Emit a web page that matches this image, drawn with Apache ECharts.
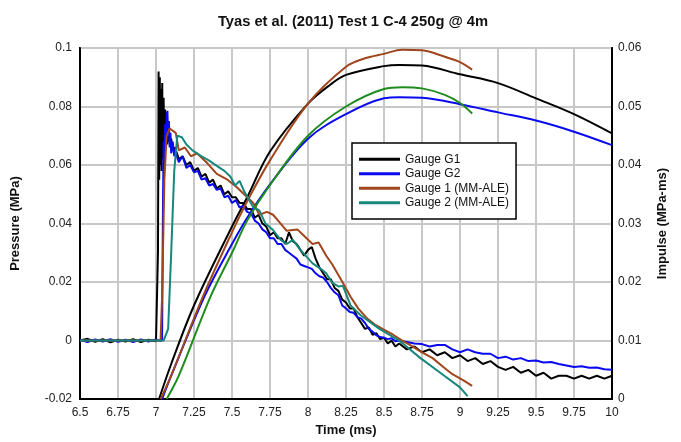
<!DOCTYPE html>
<html>
<head>
<meta charset="utf-8">
<script src="https://cdn.jsdelivr.net/npm/echarts@6/dist/echarts.min.js"></script>
<style>
 html, body { margin: 0; padding: 0; background: #fff; }
 #chart { width: 681px; height: 442px; }
</style>
</head>
<body>
<div id="chart"></div>
<script>
// time (ms), pressure (MPa)
const g1Pressure = [
 [6.5,0],[6.55,0.0006],[6.6,-0.0004],[6.65,0.0005],[6.7,-0.0006],[6.75,0.0003],[6.8,-0.0003],[6.85,0.0005],[6.9,-0.0005],[6.95,0.0003],[7.0,-0.0002],[7.01,0.0004],
 [7.013,0.03],[7.017,0.092],[7.021,0.055],[7.025,0.09],[7.029,0.06],[7.033,0.086],[7.037,0.058],[7.041,0.088],[7.045,0.062],[7.05,0.083],[7.055,0.063],[7.06,0.079],[7.065,0.066],[7.07,0.074],[7.075,0.067],[7.08,0.072],[7.09,0.068],[7.1,0.069],[7.11,0.065],
 [7.125,0.066],[7.15,0.062],[7.175,0.063],[7.2,0.06],[7.225,0.061],[7.25,0.058],[7.275,0.059],[7.3,0.056],[7.325,0.057],[7.35,0.054],[7.375,0.055],[7.4,0.052],[7.425,0.053],[7.45,0.05],[7.475,0.051],[7.5,0.049],[7.525,0.049],[7.55,0.047],[7.575,0.047],[7.6,0.045],[7.625,0.045],[7.65,0.042],[7.675,0.043],[7.7,0.04],[7.725,0.039],[7.75,0.036],[7.775,0.037],[7.8,0.035],[7.825,0.035],[7.85,0.033],[7.875,0.037],[7.9,0.034],[7.925,0.033],[7.95,0.031],[7.975,0.029],[8.0,0.031],[8.025,0.032],[8.05,0.028],[8.075,0.025],[8.1,0.023],[8.125,0.021],[8.15,0.021],[8.175,0.018],[8.2,0.017],[8.225,0.014],[8.25,0.013],[8.275,0.011],[8.3,0.011],[8.325,0.008],[8.35,0.006],[8.375,0.004],[8.4,0.0045],[8.425,0.002],[8.45,0.0025],[8.475,0.0005],[8.5,0.001],[8.525,-0.001],[8.55,0.0],[8.575,-0.002],[8.6,-0.001],
 [8.65,-0.003],[8.7,-0.002],[8.75,-0.004],[8.8,-0.003],[8.85,-0.005],[8.9,-0.004],[8.95,-0.006],[9.0,-0.005],[9.05,-0.007],[9.1,-0.006],[9.15,-0.008],[9.2,-0.007],[9.25,-0.009],[9.3,-0.01],[9.35,-0.009],[9.4,-0.011],[9.45,-0.01],[9.5,-0.012],[9.55,-0.011],[9.6,-0.013],[9.65,-0.012],[9.7,-0.012],[9.75,-0.013],[9.8,-0.012],[9.85,-0.013],[9.9,-0.012],[9.95,-0.013],[10,-0.012]
];
const g2Pressure = [
 [6.5,0.0003],[6.55,-0.0005],[6.6,0.0004],[6.65,-0.0003],[6.7,0.0005],[6.75,-0.0004],[6.8,0.0003],[6.85,-0.0005],[6.9,0.0004],[6.95,-0.0003],[7.0,0.0004],[7.03,-0.0002],[7.04,0.0005],
 [7.045,0.04],[7.05,0.068],[7.055,0.06],[7.06,0.074],[7.065,0.066],[7.07,0.077],[7.075,0.0785],[7.08,0.07],[7.085,0.075],[7.09,0.066],[7.095,0.071],[7.1,0.064],[7.11,0.068],[7.12,0.063],
 [7.125,0.065],[7.15,0.061],[7.175,0.063],[7.2,0.059],[7.225,0.06],[7.25,0.0575],[7.275,0.058],[7.3,0.055],[7.325,0.0555],[7.35,0.053],[7.375,0.0535],[7.4,0.0515],[7.425,0.052],[7.45,0.049],[7.475,0.0495],[7.5,0.047],[7.525,0.048],[7.55,0.0455],[7.575,0.046],[7.6,0.044],[7.625,0.0435],[7.65,0.041],[7.675,0.04],[7.7,0.038],[7.725,0.037],[7.75,0.035],[7.775,0.035],[7.8,0.033],[7.825,0.033],[7.85,0.031],[7.875,0.03],[7.9,0.029],[7.925,0.028],[7.95,0.026],[7.975,0.0255],[8.0,0.025],[8.025,0.0245],[8.05,0.023],[8.075,0.022],[8.1,0.0215],[8.125,0.02],[8.15,0.018],[8.175,0.0165],[8.2,0.0155],[8.225,0.012],[8.25,0.011],[8.275,0.0098],[8.3,0.0095],[8.325,0.008],[8.35,0.0075],[8.375,0.006],[8.4,0.004],[8.425,0.003],[8.45,0.0018],[8.475,0.0012],[8.5,0.001],[8.525,0.0005],[8.55,0.0008],[8.575,-0.0002],[8.6,0.0],
 [8.65,-0.0005],[8.7,-0.001],[8.75,-0.0012],[8.8,-0.002],[8.85,-0.0015],[8.9,-0.0015],[8.95,-0.003],[9.0,-0.004],[9.05,-0.003],[9.1,-0.004],[9.15,-0.0045],[9.2,-0.0045],[9.25,-0.006],[9.3,-0.0055],[9.35,-0.0065],[9.4,-0.006],[9.45,-0.007],[9.5,-0.0068],[9.55,-0.0075],[9.6,-0.0073],[9.65,-0.008],[9.7,-0.0085],[9.75,-0.009],[9.8,-0.0088],[9.85,-0.0093],[9.9,-0.0092],[9.95,-0.0098],[10,-0.01]
];
const mm1Pressure = [
 [6.5,0],[7.03,0],[7.04,0.015],[7.055,0.055],[7.07,0.07],[7.09,0.0725],[7.13,0.071],[7.15,0.065],[7.19,0.066],[7.23,0.063],[7.27,0.064],[7.34,0.0605],[7.4,0.057],[7.47,0.055],[7.53,0.0525],[7.6,0.049],[7.64,0.047],[7.68,0.043],[7.73,0.044],[7.77,0.043],[7.82,0.04],[7.86,0.0375],[7.93,0.038],[7.97,0.036],[8.03,0.033],[8.07,0.0335],[8.12,0.029],[8.16,0.026],[8.23,0.0197],[8.28,0.015],[8.33,0.011],[8.39,0.0075],[8.44,0.0055],[8.49,0.004],[8.56,0.002],[8.62,0.0],[8.67,-0.0015],[8.75,-0.004],[8.82,-0.006],[8.89,-0.009],[8.95,-0.0115],[9.02,-0.0135],[9.08,-0.0155]
];
const mm2Pressure = [
 [6.5,0],[7.05,0],[7.08,0.004],[7.1,0.03],[7.12,0.058],[7.14,0.07],[7.17,0.0695],[7.2,0.067],[7.24,0.065],[7.3,0.063],[7.35,0.0615],[7.4,0.0597],[7.45,0.058],[7.49,0.056],[7.52,0.053],[7.55,0.0546],[7.58,0.051],[7.64,0.0456],[7.68,0.0445],[7.72,0.04],[7.77,0.0378],[7.82,0.0344],[7.86,0.033],[7.9,0.0344],[7.95,0.031],[8.03,0.0264],[8.08,0.0247],[8.12,0.023],[8.16,0.0197],[8.2,0.0185],[8.23,0.0187],[8.28,0.012],[8.35,0.0085],[8.47,0.004],[8.6,0.0],[8.74,-0.006],[8.87,-0.011],[9.0,-0.016],[9.05,-0.019]
];
// time (ms), impulse (MPa-ms)
const g1Impulse = [[7.02,0],[7.1,0.006],[7.25,0.016],[7.5,0.0295],[7.6,0.0345],[7.75,0.0423],[8.0,0.0505],[8.15,0.0538],[8.25,0.0554],[8.5,0.0569],[8.6,0.0571],[8.75,0.057],[9.0,0.0555],[9.25,0.054],[9.5,0.0514],[9.75,0.0487],[10,0.0454]];
const g2Impulse = [[7.04,0],[7.1,0.004],[7.32,0.0176],[7.5,0.0265],[7.6,0.031],[7.75,0.0367],[8.0,0.0445],[8.25,0.0487],[8.5,0.0514],[8.6,0.0516],[8.75,0.0515],[9.0,0.0504],[9.25,0.049],[9.5,0.0476],[9.75,0.0457],[10,0.0434]];
const mm1Impulse = [[7.03,0],[7.1,0.004],[7.31,0.0176],[7.5,0.0285],[7.6,0.0338],[7.75,0.0408],[8.0,0.0505],[8.25,0.0568],[8.37,0.0582],[8.5,0.059],[8.62,0.0597],[8.75,0.0596],[8.9,0.0585],[9.0,0.0576],[9.08,0.0563]];
const mm2Impulse = [[7.07,0],[7.15,0.004],[7.36,0.0176],[7.5,0.025],[7.6,0.0305],[7.75,0.0366],[8.0,0.045],[8.25,0.05],[8.5,0.053],[8.62,0.0533],[8.75,0.0531],[8.9,0.052],[9.0,0.0506],[9.08,0.0488]];

const legendNames = ['Gauge G1', 'Gauge G2', 'Gauge 1 (MM-ALE)', 'Gauge 2 (MM-ALE)'];

const chart = echarts.init(document.getElementById('chart'));
const font = 'Liberation Sans, Arial, sans-serif';

function line(name, data, color, yAxisIndex, z, smooth) {
 return {
 name, type: 'line', data, yAxisIndex, z,
 symbol: 'none', smooth: smooth || false,
 lineStyle: { color, width: 2 },
 itemStyle: { color },
 animation: false
 };
}

chart.setOption({
 backgroundColor: '#fff',
 title: {
 text: 'Tyas et al. (2011) Test 1 C-4 250g @ 4m',
 left: 348, top: 9, textAlign: 'center',
 textStyle: { fontFamily: font, fontSize: 14.7, fontWeight: 'bold', color: '#111' }
 },
 legend: {
 data: legendNames,
 orient: 'vertical',
 left: 352, top: 143,
 padding: [10, 7, 10, 7],
 itemGap: 2,
 icon: 'rect',
 itemWidth: 41, itemHeight: 3,
 backgroundColor: '#fff',
 borderColor: '#000', borderWidth: 1.5,
 textStyle: { fontFamily: font, fontSize: 12, color: '#111', lineHeight: 12.5 }
 },
 grid: {
 left: 80, right: 69, top: 48, bottom: 37,
 show: true, borderColor: '#000', borderWidth: 2
 },
 xAxis: {
 type: 'value', min: 6.5, max: 10, interval: 0.25,
 name: 'Time (ms)', nameLocation: 'middle', nameGap: 24,
 nameTextStyle: { fontFamily: font, fontSize: 13, fontWeight: 'bold', color: '#111' },
 axisLine: { onZero: false, lineStyle: { color: '#000', width: 2 } },
 axisTick: { show: false },
 axisLabel: { fontFamily: font, fontSize: 12, color: '#222', margin: 8 },
 splitLine: { lineStyle: { color: '#c8c8c8', width: 2 } }
 },
 yAxis: [{
 type: 'value', min: -0.02, max: 0.1, interval: 0.02,
 name: 'Pressure (MPa)', nameLocation: 'middle', nameGap: 58, nameRotate: 90,
 nameTextStyle: { fontFamily: font, fontSize: 13, fontWeight: 'bold', color: '#111' },
 axisLine: { show: true, onZero: false, lineStyle: { color: '#000', width: 2 } },
 axisTick: { show: false },
 axisLabel: { fontFamily: font, fontSize: 12, color: '#222', margin: 8 },
 splitLine: { lineStyle: { color: '#c8c8c8', width: 2 } }
 }, {
 type: 'value', min: 0, max: 0.06, interval: 0.01, position: 'right',
 name: 'Impulse (MPa-ms)', nameLocation: 'middle', nameGap: 44, nameRotate: 90,
 nameTextStyle: { fontFamily: font, fontSize: 13, fontWeight: 'bold', color: '#111' },
 axisLine: { show: true, onZero: false, lineStyle: { color: '#000', width: 2 } },
 axisTick: { show: false },
 axisLabel: { fontFamily: font, fontSize: 12, color: '#222', margin: 6 },
 splitLine: { show: false }
 }],
 series: [
 line('Gauge G1', g1Pressure, '#000000', 0, 2),
 line('Gauge G2', g2Pressure, '#0a0af0', 0, 3),
 line('Gauge 1 (MM-ALE)', mm1Pressure, '#a0461c', 0, 4),
 line('Gauge 2 (MM-ALE)', mm2Pressure, '#16877c', 0, 5),
 line('Impulse G1', g1Impulse, '#000000', 1, 2, 0.35),
 line('Impulse G2', g2Impulse, '#0a0af0', 1, 3, 0.35),
 line('Impulse 1 (MM-ALE)', mm1Impulse, '#a0461c', 1, 4, 0.35),
 line('Impulse 2 (MM-ALE)', mm2Impulse, '#1f8c1f', 1, 5, 0.35)
 ]
});
</script>
</body>
</html>
